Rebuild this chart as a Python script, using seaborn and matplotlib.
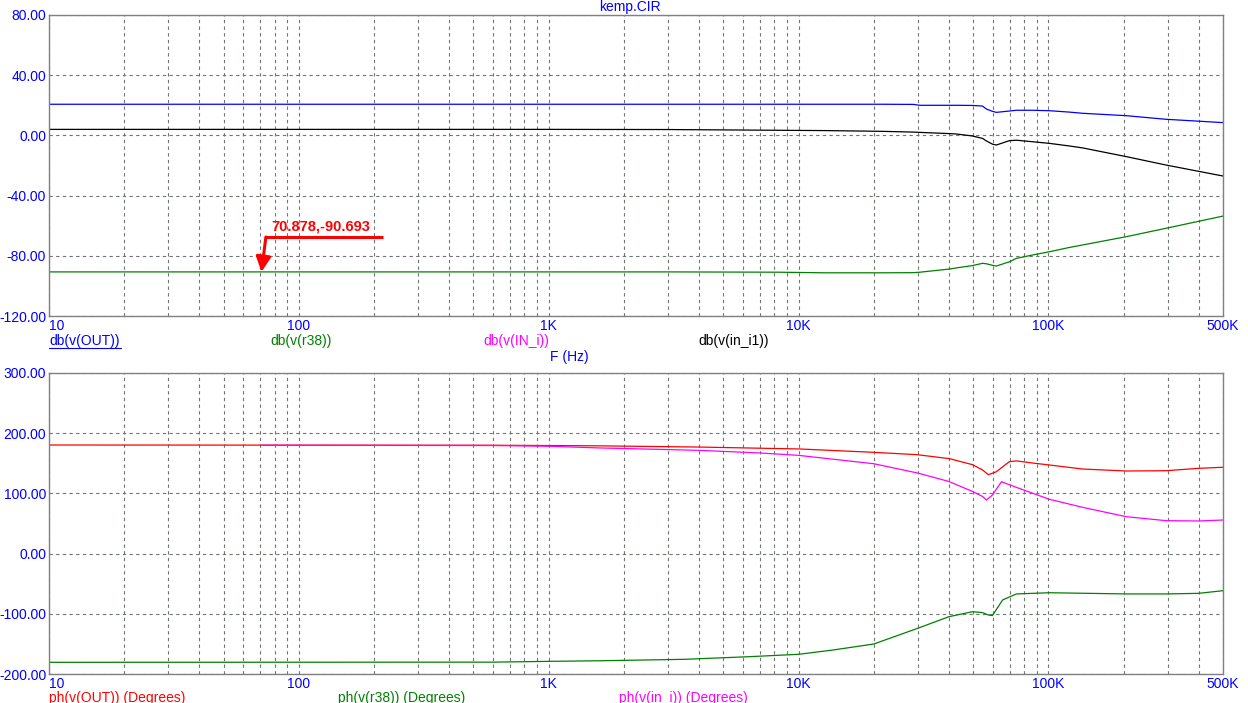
import numpy as np
import pandas as pd
import matplotlib
matplotlib.use("Agg")
import matplotlib.pyplot as plt
import matplotlib.ticker as mticker
from matplotlib.lines import Line2D
import seaborn as sns

# ---- data ----
freq_db = [10, 100, 1000, 3000, 8300, 12800, 21600, 28800, 30600, 40200, 43000, 49700, 54500,
           56500, 59700, 61900, 69800, 74500, 86300, 101000, 121000, 137000, 205000, 296000, 500000]
db_out = [20.7, 20.7, 20.7, 20.7, 20.7, 20.7, 20.7, 20.6, 20.0, 20.0, 20.0, 19.9, 19.5,
          17.5, 16.0, 15.3, 16.2, 16.7, 16.7, 16.4, 15.5, 14.7, 13.1, 10.7, 8.5]
db_in_i1 = [4.0, 4.0, 4.0, 3.9, 3.4, 3.2, 2.7, 2.2, 2.0, 1.2, 0.9, -0.4, -2.0,
            -3.7, -5.8, -6.4, -3.5, -3.2, -4.2, -5.3, -7.0, -8.3, -14.1, -19.7, -27.0]
db_r38 = [-90.7, -90.7, -90.7, -90.7, -90.9, -91.3, -91.3, -91.2, -90.9, -88.8, -88.0, -86.5, -85.0,
          -85.3, -86.3, -86.8, -84.0, -81.7, -79.5, -77.3, -74.5, -72.8, -67.3, -61.7, -53.6]

freq_ph_out = [10, 600, 1000, 1600, 4000, 10100, 20100, 29900, 40200, 49700, 54500,
               57500, 61900, 69800, 74500, 86300, 101000, 137000, 205000, 296000, 400000, 500000]
ph_out = [180.4, 180.0, 179.5, 179.0, 177.0, 173.8, 168.2, 164.3, 157.7, 147.7, 139.0,
          131.0, 136.0, 152.7, 154.0, 150.5, 147.2, 140.5, 137.2, 137.7, 141.7, 143.4]

freq_ph_in_i = [70.878, 600, 1000, 1600, 4000, 7000, 10000, 20000, 30000, 40000, 49700, 54500,
                56500, 59700, 64900, 74500, 101000, 137000, 205000, 296000, 400000, 500000]
ph_in_i = [180.0, 179.5, 178.3, 175.5, 171.5, 167.2, 163.2, 149.3, 133.8, 119.8, 103.2, 95.0,
           89.0, 97.3, 119.4, 110.0, 90.2, 76.9, 61.3, 54.7, 54.2, 55.8]

freq_ph_r38 = [10, 600, 1000, 1600, 3500, 6300, 10000, 13700, 20000, 30000, 40000, 49700, 54500,
               57500, 59700, 65600, 74500, 101000, 205000, 296000, 400000, 500000]
ph_r38 = [-180.6, -180.3, -179.0, -178.0, -175.6, -171.3, -167.3, -160.2, -150.2, -124.1, -104.8,
          -96.5, -98.0, -102.0, -103.0, -77.0, -67.0, -65.0, -67.0, -67.0, -66.0, -61.6]

cursor_f, cursor_db = 70.878, -90.693

xtick_vals = [10, 100, 1000, 10000, 100000, 500000]
xtick_labels = ["10", "100", "1K", "10K", "100K", "500K"]

BLUE = "#0000ff"
GREEN = "#008000"
RED = "#ff0000"
MAG = "#ff00ff"
GRID = "#6e776e"

sns.set_style("white")
plt.rcParams["font.family"] = ["Liberation Sans", "DejaVu Sans"]
plt.rcParams["font.size"] = 10

W, H = 1248, 703
fig = plt.figure(figsize=(W / 100, H / 100), dpi=100)


def px(x0, y0, x1, y1):
    return [x0 / W, 1 - y1 / H, (x1 - x0) / W, (y1 - y0) / H]


ax1 = fig.add_axes(px(49, 15, 1223, 316))
ax2 = fig.add_axes(px(49, 373, 1223, 674))


def draw(ax, f, v, color):
    df = pd.DataFrame({"f": f, "v": v})
    sns.lineplot(data=df, x="f", y="v", ax=ax, color=color, lw=0.9,
                 estimator=None, sort=False, legend=False)


draw(ax1, freq_db, db_out, BLUE)
draw(ax1, freq_db, db_in_i1, "black")
draw(ax1, freq_db, db_r38, GREEN)

draw(ax2, freq_ph_out, ph_out, RED)
draw(ax2, freq_ph_r38, ph_r38, GREEN)
draw(ax2, freq_ph_in_i, ph_in_i, MAG)


def style(ax, ylo, yhi, ystep):
    ax.set_xscale("log")
    ax.set_xlim(10, 500000)
    ax.set_ylim(ylo, yhi)
    ax.set_xlabel("")
    ax.set_ylabel("")
    ax.set_xticks(xtick_vals)
    ax.set_xticklabels(xtick_labels)
    ax.xaxis.set_minor_locator(mticker.LogLocator(base=10, subs=np.arange(2, 10)))
    ax.xaxis.set_minor_formatter(mticker.NullFormatter())
    yt = np.arange(ylo, yhi + 1, ystep)
    ax.set_yticks(yt)
    ax.set_yticklabels([f"{v:.2f}" for v in yt])
    ax.tick_params(which="both", length=0, colors=BLUE, labelsize=10)
    ax.tick_params(axis="x", pad=2)
    ax.tick_params(axis="y", pad=2)
    ax.grid(True, which="both", axis="x", color=GRID, ls=(0, (3, 3)), lw=0.8)
    ax.grid(True, which="major", axis="y", color=GRID, ls=(0, (3, 3)), lw=0.8)
    for s in ax.spines.values():
        s.set_color("#808080")
        s.set_linewidth(1)
    labs = ax.get_xticklabels()
    labs[0].set_ha("left")


style(ax1, -120, 80, 40)
style(ax2, -200, 300, 100)

# cursor annotation
ax1.plot([73.8, 217], [-67.5, -67.5], color=RED, lw=2.2, solid_capstyle="butt")
ax1.annotate("", xy=(cursor_f, cursor_db), xytext=(73.8, -67.5),
             arrowprops=dict(arrowstyle="-|>,head_length=0.9,head_width=0.45",
                             color=RED, lw=2.2, shrinkA=0, shrinkB=0))
ax1.text(77.5, -65.5, f"{cursor_f:.3f},{cursor_db:.3f}", color=RED,
         fontweight="bold", fontsize=10.5, va="bottom", ha="left")

# labels
fig.text(630 / W, 1 - 7 / H, "kemp.CIR", color=BLUE, ha="center", va="center", fontsize=10)

ytop = 1 - 341 / H
fig.text(49 / W, ytop, "db(v(OUT))", color=BLUE, va="center")
fig.add_artist(Line2D([49 / W, 121 / W], [1 - 348 / H, 1 - 348 / H], color=BLUE, lw=0.8))
fig.text(270 / W, ytop, "db(v(r38))", color=GREEN, va="center")
fig.text(483 / W, ytop, "db(v(IN_i))", color=MAG, va="center")
fig.text(698 / W, ytop, "db(v(in_i1))", color="black", va="center")
fig.text(550 / W, 1 - 357 / H, "F (Hz)", color=BLUE, va="center")

ybot = 1 - 691 / H
fig.text(49 / W, ybot, "ph(v(OUT)) (Degrees)", color=RED, va="top")
fig.text(338 / W, ybot, "ph(v(r38)) (Degrees)", color=GREEN, va="top")
fig.text(619 / W, ybot, "ph(v(in_i)) (Degrees)", color=MAG, va="top")

fig.savefig("out.png", dpi=100, facecolor="white")
